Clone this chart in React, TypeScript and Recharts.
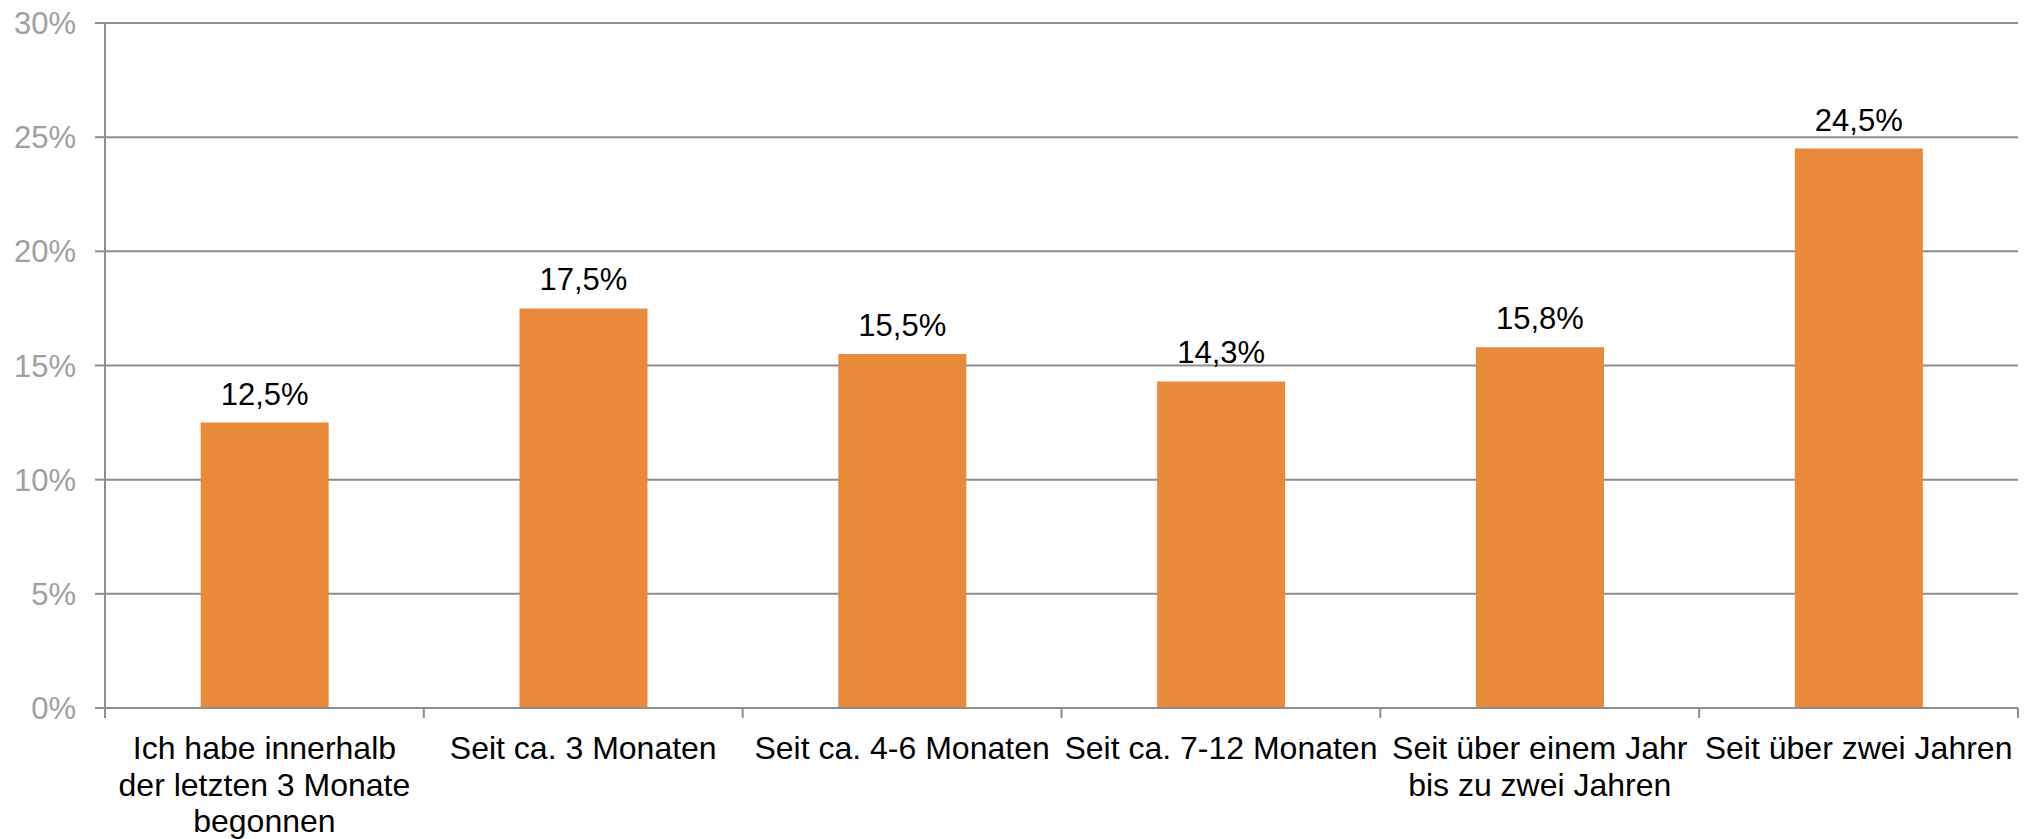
import { Bar, BarChart, CartesianGrid, LabelList, XAxis, YAxis } from 'recharts';

const categories = [
  'Ich habe innerhalb\nder letzten 3 Monate\nbegonnen',
  'Seit ca. 3 Monaten',
  'Seit ca. 4-6 Monaten',
  'Seit ca. 7-12 Monaten',
  'Seit über einem Jahr\nbis zu zwei Jahren',
  'Seit über zwei Jahren',
];
const shares = [12.5, 17.5, 15.5, 14.3, 15.8, 24.5];
const yTicks = [0, 5, 10, 15, 20, 25, 30];

const FONT = '"Liberation Sans", Arial, sans-serif';
const GRID = '#8e8e8e';

const CHART_W = 2024;
const CHART_H = 839;
const MARGIN = { top: 23, right: 6, bottom: 0, left: 0 };
const Y_AXIS_W = 105;
const TICK = 10;

const data = categories.map((name, i) => ({ name, share: shares[i] }));

type TickProps = {
  x?: number;
  y?: number;
  index?: number;
  visibleTicksCount?: number;
  payload?: { value: string };
};

// category ticks in the original sit on the band edges, not the centres
function CategoryTick({ x = 0, y = 0, index = 0, visibleTicksCount = 1, payload }: TickProps) {
  const lines = String(payload?.value ?? '').split('\n');
  const band = (CHART_W - MARGIN.left - MARGIN.right - Y_AXIS_W) / visibleTicksCount;
  const left = x - band / 2;
  const right = x + band / 2;
  return (
    <g>
      <line x1={left} x2={left} y1={y - TICK} y2={y} stroke={GRID} strokeWidth={2} />
      {index === visibleTicksCount - 1 && (
        <line x1={right} x2={right} y1={y - TICK} y2={y} stroke={GRID} strokeWidth={2} />
      )}
      <text x={x} y={y} textAnchor="middle" fill="#000" fontSize={32} fontFamily={FONT}>
        {lines.map((line, i) => (
          <tspan key={i} x={x} dy={i === 0 ? 41 : 36.5}>
            {line}
          </tspan>
        ))}
      </text>
    </g>
  );
}

const pct = (v: unknown) => `${Number(v).toFixed(1).replace('.', ',')}%`;

export default function App() {
  return (
    <div style={{ position: 'absolute', left: 0, top: 0, background: '#fff' }}>
      <BarChart width={CHART_W} height={CHART_H} data={data} margin={MARGIN} barCategoryGap="30%">
        <CartesianGrid vertical={false} stroke={GRID} strokeWidth={2} />
        <XAxis
          dataKey="name"
          interval={0}
          height={131}
          tickLine={false}
          tickSize={TICK}
          tickMargin={0}
          axisLine={{ stroke: GRID, strokeWidth: 2 }}
          tick={<CategoryTick />}
        />
        <YAxis
          width={Y_AXIS_W}
          domain={[0, 30]}
          ticks={yTicks}
          tickFormatter={(v) => `${v}%`}
          tick={{ fill: '#a0a0a0', fontSize: 31, fontFamily: FONT }}
          tickSize={TICK}
          tickMargin={19}
          tickLine={{ stroke: GRID, strokeWidth: 2 }}
          axisLine={{ stroke: GRID, strokeWidth: 2 }}
        />
        <Bar dataKey="share" fill="#E98A3B" isAnimationActive={false}>
          <LabelList
            dataKey="share"
            position="top"
            offset={18}
            formatter={pct}
            fill="#000"
            fontSize={31}
            fontFamily={FONT}
          />
        </Bar>
      </BarChart>
    </div>
  );
}
